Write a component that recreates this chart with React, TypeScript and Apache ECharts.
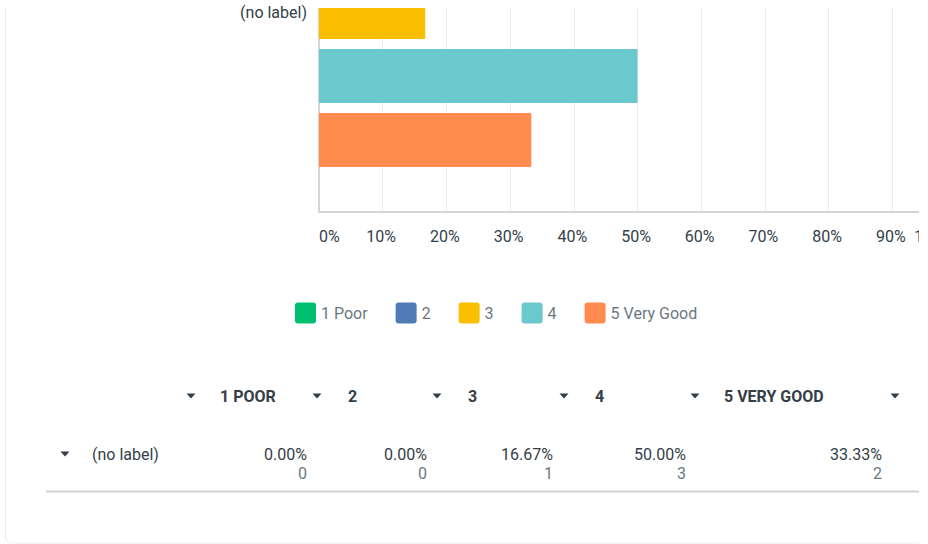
import React, { useEffect, useRef } from "react";
import * as echarts from "echarts";

const rowLabel = "(no label)";
const categories = ["1 Poor", "2", "3", "4", "5 Very Good"];
const percents = [0, 0, 16.67, 50, 33.33];
const counts = [0, 0, 1, 3, 2];
const colors = ["#00bf6f", "#507cb6", "#f9be00", "#6bc8cd", "#ff8b4f"];
const xTicks = [0, 10, 20, 30, 40, 50, 60, 70, 80, 90, 100];

const FONT = "Roboto, 'Noto Sans', sans-serif";
const DARK = "#333e48";
const MID = "#6b787f";

// layout of the table (pixels)
const headerTextX = [220, 348, 468, 595, 724];
const headerCaretX = [191, 317, 437, 564, 695, 895];
const valueRightX = [307, 427, 553, 686, 882];
const headerY = 396;
const pctY = 454;
const cntY = 473;

const LEGEND_ICON =
  "path://M3,0H18A3,3,0,0,1,21,3V18A3,3,0,0,1,18,21H3A3,3,0,0,1,0,18V3A3,3,0,0,1,3,0Z";

function caret(cx: number, cy: number) {
  return {
    type: "polygon",
    z: 50,
    shape: {
      points: [
        [cx - 4.5, cy - 2.5],
        [cx + 4.5, cy - 2.5],
        [cx, cy + 2.5],
      ],
    },
    style: { fill: DARK },
  };
}

export default function App() {
  const ref = useRef<HTMLDivElement>(null);
  useEffect(() => {
    if (!ref.current) return;
    const chart = echarts.init(ref.current, undefined, { renderer: "svg" });

    const graphics: any[] = [];
    graphics.push({
      type: "rect",
      z: 40,
      shape: { x: 5.5, y: -20, width: 2000, height: 563, r: 6 },
      style: { fill: "none", stroke: "#ebebeb", lineWidth: 1 },
    });
    graphics.push({
      type: "rect",
      z: 100,
      shape: { x: 0, y: 0, width: 230, height: 8 },
      style: { fill: "#fff" },
    });
    graphics.push({
      type: "rect",
      z: 100,
      shape: { x: 310, y: 0, width: 640, height: 8 },
      style: { fill: "#fff" },
    });
    graphics.push({
      type: "rect",
      z: 100,
      shape: { x: 919, y: 0, width: 20, height: 544 },
      style: { fill: "#fff" },
    });
    headerCaretX.forEach((x) => graphics.push(caret(x, headerY)));
    categories.forEach((c, i) =>
      graphics.push({
        type: "text",
        z: 50,
        x: headerTextX[i],
        y: headerY,
        style: {
          text: c.toUpperCase(),
          font: `bold 16px ${FONT}`,
          fill: DARK,
          align: "left",
          verticalAlign: "middle",
        },
      })
    );
    graphics.push(caret(65, pctY));
    graphics.push({
      type: "text",
      z: 50,
      x: 92,
      y: pctY,
      style: {
        text: rowLabel,
        font: `16px ${FONT}`,
        fill: DARK,
        align: "left",
        verticalAlign: "middle",
      },
    });
    percents.forEach((p, i) => {
      graphics.push({
        type: "text",
        z: 50,
        x: valueRightX[i],
        y: pctY,
        style: {
          text: p.toFixed(2) + "%",
          font: `16px ${FONT}`,
          fill: DARK,
          align: "right",
          verticalAlign: "middle",
        },
      });
      graphics.push({
        type: "text",
        z: 50,
        x: valueRightX[i],
        y: cntY,
        style: {
          text: String(counts[i]),
          font: `16px ${FONT}`,
          fill: MID,
          align: "right",
          verticalAlign: "middle",
        },
      });
    });
    graphics.push({
      type: "line",
      z: 50,
      shape: { x1: 46, y1: 491.5, x2: 919, y2: 491.5 },
      style: { stroke: "#d0d2d3", lineWidth: 2 },
    });

    chart.setOption({
      animation: false,
      backgroundColor: "#ffffff",
      textStyle: { fontFamily: FONT },
      grid: {
        left: 319,
        top: -188,
        width: 637,
        height: 400,
        containLabel: false,
        outerBoundsMode: "none",
      },
      legend: {
        left: 290,
        top: 297.5,
        itemWidth: 21,
        itemHeight: 21,
        itemGap: 28,
        icon: LEGEND_ICON,
        selectedMode: false,
        data: categories,
        textStyle: { fontSize: 16, color: MID, fontFamily: FONT },
      },
      xAxis: {
        type: "value",
        min: xTicks[0],
        max: xTicks[xTicks.length - 1],
        interval: xTicks[1] - xTicks[0],
        axisLine: { show: true, lineStyle: { color: "#d5d5d5", width: 2 } },
        axisTick: { show: false },
        splitLine: { show: true, lineStyle: { color: "#ececec", width: 1 } },
        axisLabel: {
          formatter: "{value}%",
          fontSize: 16,
          color: DARK,
          margin: 16,
          fontFamily: FONT,
          alignMinLabel: "left",
          alignMaxLabel: "right",
          padding: [0, 3, 0, 0],
        },
      },
      yAxis: {
        type: "category",
        inverse: true,
        data: [rowLabel],
        axisLine: { show: true, lineStyle: { color: "#d5d5d5", width: 2 } },
        axisTick: { show: false },
        axisLabel: { fontSize: 16, color: DARK, margin: 12, fontFamily: FONT },
      },
      series: categories.map((c, i) => ({
        type: "bar",
        name: c,
        data: [percents[i]],
        barWidth: 54,
        barGap: "18.52%",
        itemStyle: { color: colors[i] },
      })),
      graphic: { elements: graphics },
    });
    return () => chart.dispose();
  }, []);
  return (
    <div
      ref={ref}
      style={{ position: "absolute", left: 0, top: 0, width: 928, height: 544 }}
    />
  );
}
